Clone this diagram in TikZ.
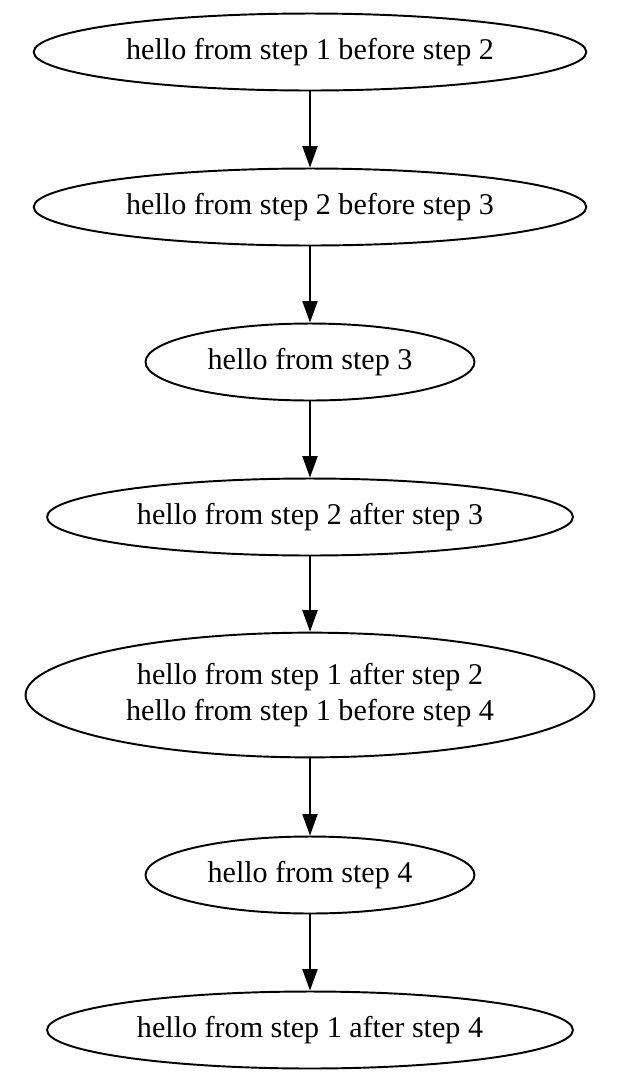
\documentclass[tikz,border=0pt]{standalone}
\usepackage{fontspec}
\setmainfont{Liberation Serif}
\usetikzlibrary{shapes.geometric, arrows.meta}
\tikzset{every picture/.style = {line width=0.9pt, x=0.4651pt, y=-0.4651pt}}
\tikzset{blob/.style = {draw, shape=ellipse, inner sep=0, align=center,
    font=\fontsize{14}{16.5}\selectfont}}
\tikzset{wide/.style = {blob, minimum width=257pt, minimum height=35.8pt}}
\tikzset{mid/.style = {blob, minimum width=244.6pt, minimum height=35.8pt}}
\tikzset{slim/.style = {blob, minimum width=153pt, minimum height=35.8pt}}
\tikzset{hop/.style = {-{Triangle[length=10pt, width=7pt]}}}

\begin{document}
\begin{tikzpicture}
  \useasboundingbox (0, 0) rectangle (626, 1092);
  \node[wide] (s1b2) at (310, 52) {hello from step 1 before step 2};
  \node[wide] (s2b3) at (310, 207) {hello from step 2 before step 3};
  \node[slim] (s3) at (310, 362) {hello from step 3};
  \node[mid] (s2a3) at (310, 517) {hello from step 2 after step 3};
  \node[blob, minimum width=264.6pt, minimum height=58pt] (s1a2) at (310, 695)
    {hello from step 1 after step 2\\hello from step 1 before step 4};
  \node[slim] (s4) at (310, 875) {hello from step 4};
  \node[mid] (s1a4) at (310, 1030) {hello from step 1 after step 4};
  \foreach \a/\b in {s1b2/s2b3, s2b3/s3, s3/s2a3, s2a3/s1a2, s1a2/s4, s4/s1a4}
    \draw[hop] (\a) -- (\b);
\end{tikzpicture}
\end{document}
